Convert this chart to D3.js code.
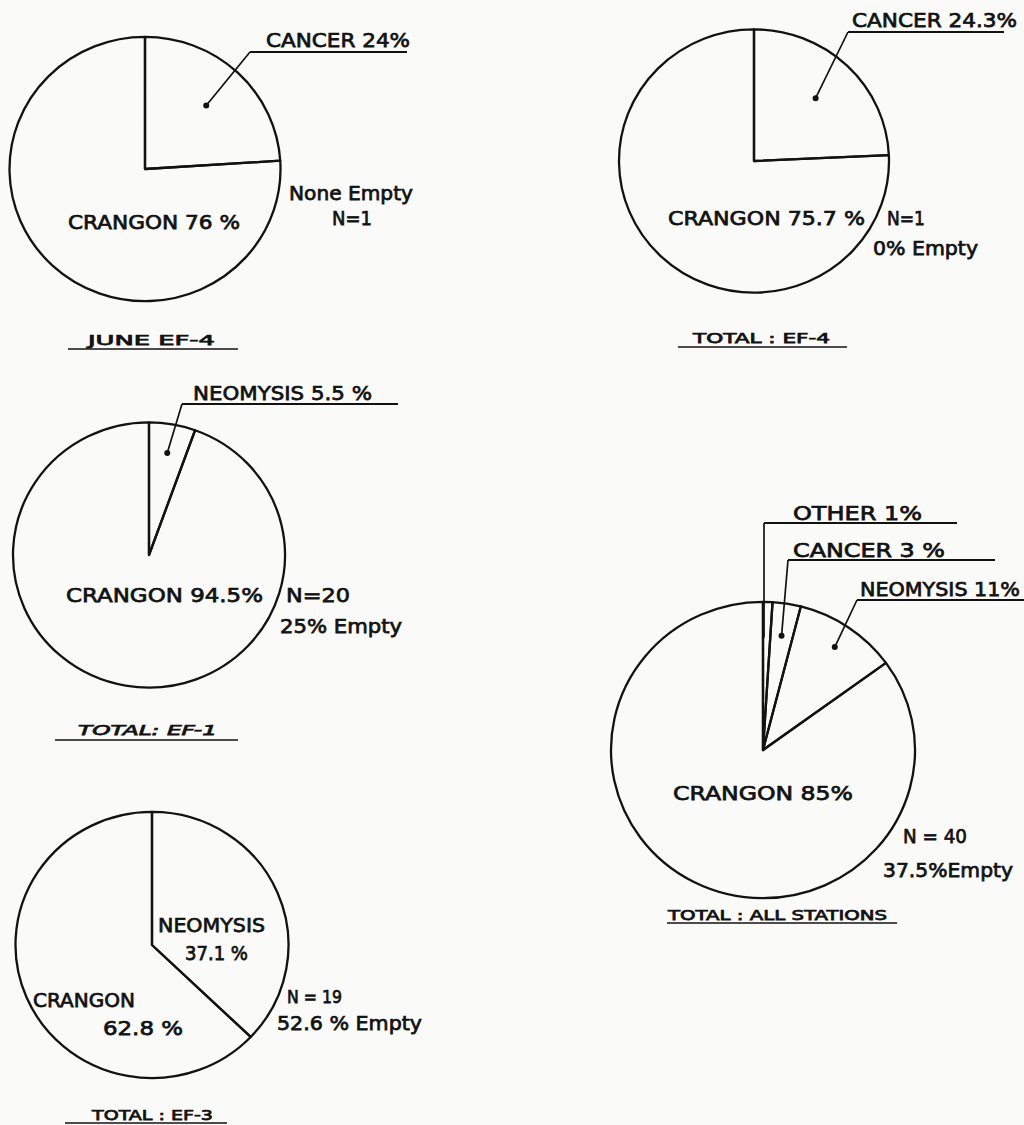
<!DOCTYPE html>
<html>
<head>
<meta charset="utf-8">
<script src="https://cdn.jsdelivr.net/npm/d3@7"></script>
<style>
  html, body { margin: 0; padding: 0; background: #fafaf9; }
  svg { display: block; }
  text { font-family: "DejaVu Sans", sans-serif; fill: #121212; stroke: #121212; stroke-width: 0.75px; }
</style>
</head>
<body>
<svg id="chart" width="1024" height="1125"></svg>
<script>
// ---------------- data ----------------
const chartTitles = ["JUNE  EF-4", "TOTAL : EF-4", "TOTAL:  EF-1", "TOTAL : EF-3", "TOTAL : ALL STATIONS"];

const juneEF4Categories = ["CANCER", "CRANGON"];
const juneEF4Values = [24, 76];

const totalEF4Categories = ["CANCER", "CRANGON"];
const totalEF4Values = [24.3, 75.7];

const totalEF1Categories = ["NEOMYSIS", "CRANGON"];
const totalEF1Values = [5.5, 94.5];

const totalEF3Categories = ["NEOMYSIS", "CRANGON"];
const totalEF3Values = [37.1, 62.8];

const allStationsCategories = ["OTHER", "CANCER", "NEOMYSIS", "CRANGON"];
const allStationsValues = [1, 3, 11, 85];

const sampleSizes = [1, 1, 20, 19, 40];
const sizeLabels = ["N=1", "N=1", "N=20", "N = 19", "N = 40"];
const emptyLabels = ["None Empty", "0% Empty", "25% Empty", "52.6 % Empty", "37.5%Empty"];

// ---------------- layout (positions / sizes only) ----------------
const layout = [
  { cx: 145, cy: 169, rx: 135.5,
    title: { x: 88, y: 345, w: 127 }, rule: [68, 238, 349],
    slices: [
      { x: 266, y: 47, w: 144, rule: [250, 407, 52], k: 0.66, fmt: v => v + "%" },
      { x: 68, y: 229, w: 172, fmt: v => v + " %" }
    ],
    notes: [ { t: "empty", x: 289, y: 200, w: 124 }, { t: "n", x: 332, y: 225, w: 40 } ] },
  { cx: 754, cy: 161, rx: 135,
    title: { x: 693, y: 343, w: 137 }, rule: [678, 847, 347],
    slices: [
      { x: 852, y: 27, w: 165, rule: [848, 1004, 32], k: 0.66, fmt: v => v + "%" },
      { x: 668, y: 225, w: 197, fmt: v => v + " %" }
    ],
    notes: [ { t: "n", x: 887, y: 225, w: 38 }, { t: "empty", x: 873, y: 255, w: 105 } ] },
  { cx: 149, cy: 555, rx: 136,
    title: { x: 78, y: 735, w: 139, italic: true }, rule: [55, 238, 740],
    slices: [
      { x: 193, y: 400, w: 179, rule: [182, 398, 404], k: 0.78, fmt: v => v + " %" },
      { x: 66, y: 602, w: 197, fmt: v => v + "%" }
    ],
    notes: [ { t: "n", x: 286, y: 602, w: 64 }, { t: "empty", x: 280, y: 633, w: 122 } ] },
  { cx: 152, cy: 945, rx: 136.5,
    title: { x: 92, y: 1120, w: 121 }, rule: [65, 227, 1123],
    slices: [
      { x: 158, y: 932, w: 107, x2: 185, y2: 960, w2: 63, split: true, fmt: v => v + " %" },
      { x: 33, y: 1007, w: 102, x2: 103, y2: 1035, w2: 80, split: true, fmt: v => v + " %" }
    ],
    notes: [ { t: "n", x: 287, y: 1003, w: 55, size: 18 }, { t: "empty", x: 277, y: 1030, w: 145 } ] },
  { cx: 763, cy: 750, rx: 152,
    title: { x: 668, y: 920, w: 219 }, rule: [667, 897, 923],
    slices: [
      { x: 793, y: 520, w: 129, rule: [764, 957, 523], k: 0.76, noDot: true, vertical: true, fmt: v => " " + v + "%" },
      { x: 793, y: 557, w: 152, rule: [788, 995, 560], k: 0.78, fmt: v => " " + v + " %" },
      { x: 860, y: 596, w: 160, rule: [857, 1024, 600], k: 0.84, fmt: v => v + "%" },
      { x: 673, y: 800, w: 180, fmt: v => v + "%" }
    ],
    notes: [ { t: "n", x: 903, y: 843, w: 64 }, { t: "empty", x: 883, y: 877, w: 130 } ] }
];

const pieSets = [
  { cats: juneEF4Categories, vals: juneEF4Values },
  { cats: totalEF4Categories, vals: totalEF4Values },
  { cats: totalEF1Categories, vals: totalEF1Values },
  { cats: totalEF3Categories, vals: totalEF3Values },
  { cats: allStationsCategories, vals: allStationsValues }
];

// ---------------- drawing ----------------
const svg = d3.select("#chart");
const yScaleFactor = 0.975;           // scanned circles are slightly squashed vertically
const mainSize = 20, titleSize = 14;
const ink = "#121212";

function addText(g, str, x, y, w, size, italic) {
  const t = g.append("text")
    .attr("x", x).attr("y", y)
    .attr("font-size", size)
    .text(str);
  if (w) t.attr("textLength", w).attr("lengthAdjust", "spacingAndGlyphs");
  if (italic) t.attr("font-style", "italic");
  return t;
}

pieSets.forEach((set, i) => {
  const L = layout[i];
  const g = svg.append("g");

  const data = set.cats.map((c, j) => ({ cat: c, val: set.vals[j] }));
  const pie = d3.pie().sort(null).value(d => d.val).startAngle(0).endAngle(2 * Math.PI);
  const arcs = pie(data);

  const arc = d3.arc().innerRadius(0).outerRadius(L.rx);

  const pg = g.append("g")
    .attr("transform", `translate(${L.cx},${L.cy}) scale(1,${yScaleFactor})`);

  pg.selectAll("path.slice")
    .data(arcs)
    .join("path")
    .attr("class", "slice")
    .attr("d", arc)
    .attr("fill", "none")
    .attr("stroke", ink)
    .attr("stroke-width", 2.3)
    .attr("stroke-linejoin", "round")
    .attr("vector-effect", "non-scaling-stroke");

  // slice labels
  arcs.forEach((a, j) => {
    const S = L.slices[j];
    const valStr = S.fmt(a.data.val);
    if (S.split) {
      addText(g, a.data.cat, S.x, S.y, S.w, mainSize);
      addText(g, valStr.trim(), S.x2, S.y2, S.w2, mainSize);
    } else {
      addText(g, a.data.cat + " " + valStr, S.x, S.y, S.w, mainSize);
    }
    if (S.rule) {
      g.append("line")
        .attr("x1", S.rule[0]).attr("x2", S.rule[1])
        .attr("y1", S.rule[2]).attr("y2", S.rule[2])
        .attr("stroke", ink).attr("stroke-width", 1.8);
      const c = d3.arc().innerRadius(L.rx * S.k).outerRadius(L.rx * S.k).centroid(a);
      const dx = L.cx + c[0], dy = L.cy + c[1] * yScaleFactor;
      g.append("line")
        .attr("x1", S.rule[0]).attr("y1", S.rule[2])
        .attr("x2", S.vertical ? S.rule[0] : dx).attr("y2", dy)
        .attr("stroke", ink).attr("stroke-width", 1.7);
      if (!S.noDot) {
        g.append("circle").attr("cx", dx).attr("cy", dy).attr("r", 3).attr("fill", ink);
      }
    }
  });

  // notes: N and % empty
  L.notes.forEach(n => {
    const str = n.t === "n" ? sizeLabels[i] : emptyLabels[i];
    addText(g, str, n.x, n.y, n.w, n.size || mainSize);
  });

  // title with underline
  addText(g, chartTitles[i], L.title.x, L.title.y, L.title.w, titleSize, L.title.italic);
  g.append("line")
    .attr("x1", L.rule[0]).attr("x2", L.rule[1])
    .attr("y1", L.rule[2]).attr("y2", L.rule[2])
    .attr("stroke", ink).attr("stroke-width", 1.6);
});
</script>
</body>
</html>
